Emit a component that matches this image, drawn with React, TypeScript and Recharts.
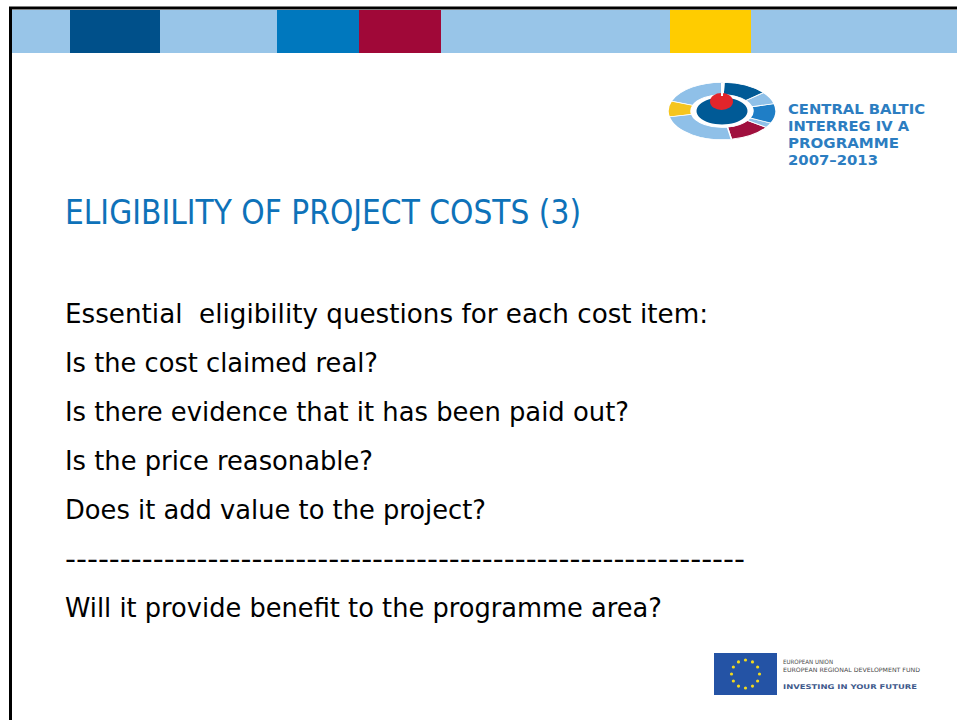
import React from "react";
import { BarChart, Bar, XAxis, YAxis, PieChart, Pie, Cell } from "recharts";

// top stripe: colour blocks, left to right
const stripeColors = ["#98C5E8", "#00508A", "#98C5E8", "#0078BE", "#A00838", "#98C5E8", "#FFCC00", "#98C5E8"];
const stripeWidths = [58, 90, 117, 82, 82, 229, 81, 206];

// programme logo ring, counter-clockwise from -80deg
const ringNames = ["crimson", "light1", "blue", "light2", "dark", "light3", "yellow", "light4"];
const ringSpans = [45, 10, 40, 25, 48, 72, 32, 88];
const ringColors = ["#A0103E", "#8FC0E8", "#1F7EC6", "#8FC0E8", "#005A96", "#8FC0E8", "#F5C51E", "#8FC0E8"];

const logoLines = ["CENTRAL BALTIC", "INTERREG IV A", "PROGRAMME", "2007–2013"];

const title = "ELIGIBILITY OF PROJECT COSTS (3)";
const bodyLines = [
  "Essential  eligibility questions for each cost item:",
  "Is the cost claimed real?",
  "Is there evidence that it has been paid out?",
  "Is the price reasonable?",
  "Does it add value to the project?",
  "--------------------------------------------------------------",
  "Will it provide benefit to the programme area?",
];

const euLines = ["EUROPEAN UNION", "EUROPEAN REGIONAL DEVELOPMENT FUND"];
const euMotto = "INVESTING IN YOUR FUTURE";

// layout
const bodyWidths = [643, 313, 564, 308, 421, 680, 597];
const logoWidths = [137, 121, 111, 90];
const font = "'DejaVu Sans', 'Liberation Sans', sans-serif";

const stripeRow: Record<string, number | string> = { name: "stripe" };
stripeWidths.forEach((w, i) => {
  stripeRow["s" + i] = w;
});
const stripeTotal = stripeWidths.reduce((a, b) => a + b, 0);

const ringData = ringNames.map((n, i) => ({ name: n, value: ringSpans[i] }));

export default function App() {
  return (
    <div style={{ position: "absolute", left: 0, top: 0, width: 957, height: 720, background: "#fff", overflow: "hidden" }}>
      <div style={{ position: "absolute", left: 12, top: 10 }}>
        <BarChart
          width={945}
          height={43}
          layout="vertical"
          data={[stripeRow]}
          margin={{ top: 0, right: 0, bottom: 0, left: 0 }}
          barCategoryGap={0}
        >
          <XAxis type="number" hide domain={[0, stripeTotal]} />
          <YAxis type="category" dataKey="name" hide />
          {stripeWidths.map((_, i) => (
            <Bar key={i} dataKey={"s" + i} stackId="a" fill={stripeColors[i]} isAnimationActive={false} />
          ))}
        </BarChart>
      </div>

      <div style={{ position: "absolute", left: 667, top: 56, transform: "scaleY(0.53)", transformOrigin: "55px 55px" }}>
        <PieChart width={110} height={110} margin={{ top: 0, right: 0, bottom: 0, left: 0 }}>
          <Pie
            data={ringData}
            dataKey="value"
            cx="50%"
            cy="50%"
            innerRadius={31}
            outerRadius={54}
            startAngle={-80}
            endAngle={280}
            stroke="#fff"
            strokeWidth={1.5}
            isAnimationActive={false}
          >
            {ringData.map((d, i) => (
              <Cell key={d.name} fill={ringColors[i]} />
            ))}
          </Pie>
          <Pie
            data={[{ name: "core", value: 1 }]}
            dataKey="value"
            cx="50%"
            cy="50%"
            innerRadius={0}
            outerRadius={25.5}
            fill="#005A96"
            stroke="none"
            isAnimationActive={false}
          />
        </PieChart>
      </div>

      <svg width={957} height={720} style={{ position: "absolute", left: 0, top: 0 }}>
        <line x1={9} y1={8} x2={957} y2={8} stroke="#000" strokeWidth={3} />
        <line x1={10.5} y1={7} x2={10.5} y2={720} stroke="#000" strokeWidth={3} />

        <ellipse cx={721.5} cy={101.5} rx={11.5} ry={8.5} fill="#E2252B" />
        <line x1={722} y1={83} x2={722} y2={96} stroke="#fff" strokeWidth={2} />

        {logoLines.map((t, i) => (
          <text
            key={t}
            x={788}
            y={114 + i * 17}
            fontFamily={font}
            fontSize={14}
            fontWeight="bold"
            fill="#2C7DC1"
            textLength={logoWidths[i]}
            lengthAdjust="spacingAndGlyphs"
          >
            {t}
          </text>
        ))}

        <text x={65} y={224} fontFamily={font} fontSize={33} fill="#0E72B9" textLength={516} lengthAdjust="spacingAndGlyphs">
          {title}
        </text>

        {bodyLines.map((t, i) => (
          <text
            key={i}
            x={65}
            y={323 + i * 49}
            fontFamily={font}
            fontSize={27}
            fill="#000"
            textLength={bodyWidths[i]}
            lengthAdjust="spacingAndGlyphs"
            style={{ whiteSpace: "pre" }}
          >
            {t}
          </text>
        ))}

        <rect x={714} y={653} width={63} height={42} fill="#2453A5" />
        {Array.from({ length: 12 }).map((_, i) => {
          const a = (i * Math.PI) / 6;
          return <circle key={i} cx={745.5 + 14 * Math.sin(a)} cy={674 - 14 * Math.cos(a)} r={1.6} fill="#F3DA1C" />;
        })}
        {euLines.map((t, i) => (
          <text
            key={t}
            x={783}
            y={664 + i * 8}
            fontFamily={font}
            fontSize={6}
            fill="#4A4A4A"
            textLength={i === 0 ? 50 : 137}
            lengthAdjust="spacingAndGlyphs"
          >
            {t}
          </text>
        ))}
        <text
          x={783}
          y={689}
          fontFamily={font}
          fontSize={6.5}
          fontWeight="bold"
          fill="#3F5A8C"
          textLength={134}
          lengthAdjust="spacingAndGlyphs"
        >
          {euMotto}
        </text>
      </svg>
    </div>
  );
}
